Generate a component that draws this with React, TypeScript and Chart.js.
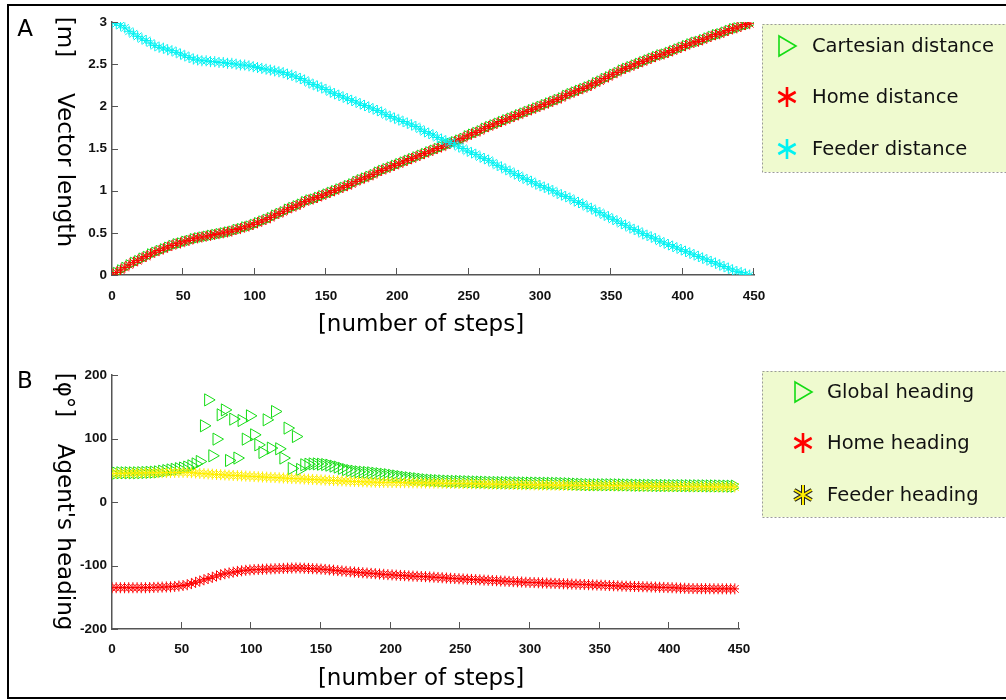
import React, { useEffect, useRef } from "react";
import { Chart, registerables } from "chart.js";
Chart.register(...registerables);

// sampling interval of the recorded series (number of steps between markers)
const STEP = 3;

// ---------- Panel A : vector length [m] ----------
const cartesianDistance = [
  0.00, 0.03, 0.06, 0.09, 0.12, 0.15, 0.17, 0.20, 0.22, 0.25,
  0.27, 0.29, 0.31, 0.33, 0.35, 0.37, 0.38, 0.40, 0.41, 0.43,
  0.44, 0.45, 0.46, 0.47, 0.48, 0.49, 0.50, 0.51, 0.52, 0.54,
  0.55, 0.57, 0.58, 0.60, 0.62, 0.64, 0.66, 0.68, 0.71, 0.73,
  0.75, 0.78, 0.80, 0.82, 0.84, 0.87, 0.89, 0.90, 0.92, 0.94,
  0.96, 0.98, 1.00, 1.02, 1.04, 1.06, 1.08, 1.11, 1.13, 1.15,
  1.17, 1.19, 1.22, 1.24, 1.26, 1.28, 1.30, 1.32, 1.34, 1.36,
  1.38, 1.40, 1.42, 1.44, 1.46, 1.48, 1.50, 1.52, 1.54, 1.56,
  1.58, 1.60, 1.62, 1.65, 1.67, 1.69, 1.71, 1.74, 1.76, 1.78,
  1.80, 1.82, 1.84, 1.86, 1.88, 1.90, 1.92, 1.94, 1.96, 1.98,
  2.00, 2.02, 2.04, 2.06, 2.08, 2.10, 2.13, 2.15, 2.17, 2.19,
  2.21, 2.23, 2.25, 2.28, 2.30, 2.33, 2.35, 2.38, 2.40, 2.43,
  2.45, 2.47, 2.49, 2.51, 2.53, 2.55, 2.57, 2.59, 2.61, 2.62,
  2.64, 2.66, 2.68, 2.70, 2.72, 2.74, 2.76, 2.77, 2.79, 2.81,
  2.83, 2.85, 2.86, 2.88, 2.90, 2.92, 2.93, 2.95, 2.97, 2.98,
];

const homeDistance = [
  0.00, 0.03, 0.06, 0.09, 0.12, 0.15, 0.17, 0.20, 0.22, 0.25,
  0.27, 0.29, 0.31, 0.33, 0.35, 0.37, 0.38, 0.40, 0.41, 0.43,
  0.44, 0.45, 0.46, 0.47, 0.48, 0.49, 0.50, 0.51, 0.52, 0.54,
  0.55, 0.57, 0.58, 0.60, 0.62, 0.64, 0.66, 0.68, 0.71, 0.73,
  0.75, 0.78, 0.80, 0.82, 0.84, 0.87, 0.89, 0.90, 0.92, 0.94,
  0.96, 0.98, 1.00, 1.02, 1.04, 1.06, 1.08, 1.11, 1.13, 1.15,
  1.17, 1.19, 1.22, 1.24, 1.26, 1.28, 1.30, 1.32, 1.34, 1.36,
  1.38, 1.40, 1.42, 1.44, 1.46, 1.48, 1.50, 1.52, 1.54, 1.56,
  1.58, 1.60, 1.62, 1.65, 1.67, 1.69, 1.71, 1.74, 1.76, 1.78,
  1.80, 1.82, 1.84, 1.86, 1.88, 1.90, 1.92, 1.94, 1.96, 1.98,
  2.00, 2.02, 2.04, 2.06, 2.08, 2.10, 2.13, 2.15, 2.17, 2.19,
  2.21, 2.23, 2.25, 2.28, 2.30, 2.33, 2.35, 2.38, 2.40, 2.43,
  2.45, 2.47, 2.49, 2.51, 2.53, 2.55, 2.57, 2.59, 2.61, 2.62,
  2.64, 2.66, 2.68, 2.70, 2.72, 2.74, 2.76, 2.77, 2.79, 2.81,
  2.83, 2.85, 2.86, 2.88, 2.90, 2.92, 2.93, 2.95, 2.97, 2.98,
];

const feederDistance = [
  3.00, 2.98, 2.96, 2.93, 2.89, 2.86, 2.83, 2.80, 2.78, 2.75,
  2.72, 2.70, 2.69, 2.67, 2.66, 2.64, 2.62, 2.60, 2.58, 2.56,
  2.55, 2.54, 2.54, 2.53, 2.53, 2.52, 2.52, 2.51, 2.51, 2.50,
  2.49, 2.49, 2.48, 2.47, 2.46, 2.45, 2.44, 2.43, 2.42, 2.41,
  2.40, 2.38, 2.37, 2.35, 2.33, 2.31, 2.28, 2.26, 2.24, 2.22,
  2.20, 2.17, 2.15, 2.13, 2.11, 2.09, 2.07, 2.05, 2.03, 2.01,
  1.99, 1.97, 1.95, 1.93, 1.90, 1.88, 1.86, 1.84, 1.82, 1.80,
  1.78, 1.76, 1.73, 1.70, 1.68, 1.66, 1.63, 1.61, 1.59, 1.57,
  1.55, 1.52, 1.50, 1.47, 1.45, 1.43, 1.40, 1.38, 1.36, 1.33,
  1.30, 1.28, 1.25, 1.23, 1.20, 1.18, 1.15, 1.13, 1.11, 1.08,
  1.06, 1.04, 1.02, 1.00, 0.97, 0.95, 0.93, 0.91, 0.88, 0.86,
  0.84, 0.81, 0.79, 0.76, 0.74, 0.71, 0.69, 0.66, 0.64, 0.61,
  0.59, 0.56, 0.54, 0.52, 0.49, 0.47, 0.45, 0.43, 0.40, 0.38,
  0.36, 0.34, 0.32, 0.30, 0.28, 0.26, 0.24, 0.22, 0.20, 0.18,
  0.16, 0.14, 0.12, 0.10, 0.08, 0.06, 0.04, 0.03, 0.01, 0.00,
];

// ---------- Panel B : agent's heading [deg] ----------
const globalHeading = [
  45, 45.5, 46, 46, 46, 46, 46, 46.2, 46.5, 46.8,
  47, 47.5, 48.5, 49.5, 50.5, 51.5, 52.5, 53.5, 55, 57,
  60, 63.8, 120, 160.8, 72.8, 99, 137.3, 145, 65.4, 130.5,
  69.2, 128.3, 99, 135.7, 105.8, 90, 78, 129.4, 84.9, 142.5,
  83.8, 69.2, 116.4, 52.8, 103.1, 51.3, 58.6, 59.5, 60, 60,
  59.5, 59, 58, 56.5, 55, 53, 51, 49.5, 48.5, 47.5,
  47, 46.5, 46, 45.2, 44.5, 43.7, 43, 42, 41, 40,
  39, 38.2, 37.4, 36.6, 35.8, 35, 34.5, 34, 33.6, 33.3,
  33, 32.8, 32.6, 32.4, 32.2, 32, 31.8, 31.6, 31.4, 31.2,
  31, 30.8, 30.7, 30.6, 30.5, 30.4, 30.3, 30.2, 30.1, 30,
  29.9, 29.9, 29.8, 29.7, 29.6, 29.5, 29.4, 29.3, 29, 28.8,
  28.5, 28.2, 27.9, 27.6, 27.4, 27.2, 27.2, 27.2, 27.2, 27.2,
  27.2, 27.1, 27, 26.9, 26.8, 26.6, 26.5, 26.4, 26.3, 26.2,
  26.1, 26, 26, 25.9, 25.9, 25.8, 25.8, 25.7, 25.7, 25.6,
  25.6, 25.5, 25.5, 25.4, 25.4, 25.3, 25.2, 25.1, 25, 25,
];

const homeHeading = [
  -135, -135, -135, -135, -135, -135, -135, -135, -135, -134.8,
  -134.5, -134.3, -134, -133.8, -133.6, -133, -132.3, -131.5, -130.3, -128.5,
  -126.5, -124.5, -122.5, -120.5, -118.5, -116.5, -114.5, -113, -111.7, -110.5,
  -109.3, -108.4, -107.6, -107, -106.5, -106.2, -105.9, -105.6, -105.4, -105.1,
  -104.8, -104.5, -104.2, -104, -103.9, -104, -104.3, -104.6, -105, -105.3,
  -105.7, -106.2, -106.8, -107.4, -108, -108.6, -109.2, -109.8, -110.3, -110.9,
  -111.4, -111.9, -112.4, -112.9, -113.4, -113.9, -114.4, -114.8, -115.2, -115.6,
  -116, -116.4, -116.7, -117, -117.3, -117.6, -118, -118.4, -118.8, -119.3,
  -119.7, -120.1, -120.5, -120.9, -121.2, -121.6, -121.9, -122.3, -122.6, -123,
  -123.3, -123.7, -124, -124.4, -124.7, -125, -125.4, -125.7, -126, -126.4,
  -126.7, -126.9, -127.2, -127.5, -127.7, -128, -128.2, -128.5, -128.8, -129,
  -129.3, -129.5, -129.8, -130, -130.3, -130.5, -130.8, -131, -131.3, -131.6,
  -131.9, -132.1, -132.4, -132.6, -132.8, -133, -133.2, -133.4, -133.6, -133.8,
  -134, -134.3, -134.5, -134.8, -135, -135.3, -135.6, -135.8, -136.1, -136.3,
  -136.4, -136.5, -136.5, -136.6, -136.6, -136.7, -136.7, -136.8, -136.8, -136.8,
];

const feederHeading = [
  45, 45, 45.2, 45.3, 45.4, 45.5, 45.6, 45.7, 45.8, 45.9,
  46, 46.1, 46.2, 46.3, 46.4, 46.5, 46.6, 46.6, 46.5, 46.2,
  45.7, 45.1, 44.6, 44.2, 43.8, 43.4, 43, 42.6, 42.2, 41.8,
  41.5, 41.1, 40.8, 40.4, 40.1, 39.7, 39.4, 39.1, 38.8, 38.5,
  38.1, 37.8, 37.5, 37.1, 36.8, 36.5, 36.2, 35.9, 35.5, 35.2,
  34.8, 34.5, 34.2, 33.8, 33.5, 33.2, 32.9, 32.6, 32.4, 32.1,
  31.8, 31.6, 31.4, 31.2, 31, 30.9, 30.8, 30.7, 30.6, 30.5,
  30.4, 30.3, 30.2, 30.1, 30, 30, 29.9, 29.8, 29.7, 29.6,
  29.5, 29.4, 29.2, 29.1, 29, 28.9, 28.8, 28.7, 28.6, 28.5,
  28.3, 28.2, 28.1, 28, 27.9, 27.7, 27.6, 27.5, 27.3, 27.2,
  27.1, 27, 26.9, 26.8, 26.8, 26.7, 26.6, 26.5, 26.4, 26.4,
  26.3, 26.2, 26.1, 26.1, 26, 25.9, 25.9, 25.8, 25.8, 25.7,
  25.7, 25.6, 25.6, 25.5, 25.4, 25.3, 25.2, 25.1, 25, 24.9,
  24.9, 24.8, 24.7, 24.6, 24.5, 24.4, 24.4, 24.3, 24.2, 24.1,
  24.1, 24, 23.9, 23.9, 23.8, 23.8, 23.7, 23.7, 23.6, 23.6,
];

// ---------- axis / label text ----------
const X_MIN = 0, X_MAX = 450, X_STEP = 50;
const A_Y_MIN = 0, A_Y_MAX = 3, A_Y_STEP = 0.5;
const B_Y_MIN = -200, B_Y_MAX = 200, B_Y_STEP = 100;
const X_TITLE = "[number of steps]";
const A_UNIT = "[m]", A_TITLE = "Vector length";
const B_UNIT = "[φ°]", B_TITLE = "Agent's heading";
const A_LABELS = ["Cartesian distance", "Home distance", "Feeder distance"];
const B_LABELS = ["Global heading", "Home heading", "Feeder heading"];

const GREEN = "#14dc14";
const RED = "#ff0000";
const CYAN = "#00f2f2";
const YELLOW = "#ffee00";
const AXIS = "#555555";
const TITLE_FONT = "'DejaVu Sans', Verdana, sans-serif";
const TICK_FONT = { family: "'Liberation Sans', Arial, sans-serif", size: 13.5, weight: "bold" as const };

const toPoints = (arr: number[]) => arr.map((v, i) => ({ x: i * STEP, y: v }));

function drawMarker(ctx: CanvasRenderingContext2D, kind: string, color: string, cx: number, cy: number) {
  ctx.save();
  if (kind === "tri") {
    ctx.strokeStyle = color;
    ctx.lineWidth = 1.6;
    ctx.beginPath();
    ctx.moveTo(cx - 8, cy - 10);
    ctx.lineTo(cx + 9, cy);
    ctx.lineTo(cx - 8, cy + 10);
    ctx.closePath();
    ctx.stroke();
  } else {
    const r = 10;
    const arms = [Math.PI / 2, Math.PI / 6, -Math.PI / 6];
    const path = () => {
      ctx.beginPath();
      arms.forEach((a) => {
        ctx.moveTo(cx - Math.cos(a) * r, cy - Math.sin(a) * r);
        ctx.lineTo(cx + Math.cos(a) * r, cy + Math.sin(a) * r);
      });
    };
    if (kind === "astOutline") {
      ctx.strokeStyle = "#222";
      ctx.lineWidth = 4;
      path();
      ctx.stroke();
      ctx.strokeStyle = color;
      ctx.lineWidth = 2;
      path();
      ctx.stroke();
    } else {
      ctx.strokeStyle = color;
      ctx.lineWidth = 2.6;
      path();
      ctx.stroke();
    }
  }
  ctx.restore();
}

type Deco = {
  letter: string; letterY: number;
  yTitles: { text: string; y: number }[];
  xTitleY: number;
  legend: { x: number; y: number; w: number; h: number; markerX: number; textX: number; rows: number[] };
};

function makeDecor(d: Deco) {
  return {
    id: "decor",
    afterDraw(chart: any) {
      const ctx: CanvasRenderingContext2D = chart.ctx;
      const { left, bottom } = chart.chartArea;
      ctx.save();
      // inward tick marks
      ctx.strokeStyle = AXIS;
      ctx.lineWidth = 1;
      const xs = chart.scales.x;
      xs.ticks.forEach((t: any) => {
        const px = Math.round(xs.getPixelForValue(t.value)) - 0.5;
        ctx.beginPath();
        ctx.moveTo(px, bottom);
        ctx.lineTo(px, bottom - 7);
        ctx.stroke();
      });
      const ys = chart.scales.y;
      ys.ticks.forEach((t: any) => {
        const py = Math.round(ys.getPixelForValue(t.value)) + 0.5;
        ctx.beginPath();
        ctx.moveTo(left, py);
        ctx.lineTo(left + 6, py);
        ctx.stroke();
      });
      // panel letter
      ctx.fillStyle = "#000";
      ctx.font = `23px ${TITLE_FONT}`;
      ctx.textAlign = "center";
      ctx.textBaseline = "middle";
      ctx.fillText(d.letter, 25, d.letterY);
      // rotated y titles (reading top to bottom)
      d.yTitles.forEach((t) => {
        ctx.save();
        ctx.translate(64, t.y);
        ctx.rotate(Math.PI / 2);
        ctx.fillText(t.text, 0, 0);
        ctx.restore();
      });
      // x title
      ctx.fillText(X_TITLE, 421, d.xTitleY);
      // legend box
      const L = d.legend;
      ctx.fillStyle = "#effacf";
      ctx.fillRect(L.x, L.y, L.w, L.h);
      ctx.strokeStyle = "#9a9a9a";
      ctx.lineWidth = 1;
      ctx.setLineDash([2, 2]);
      ctx.strokeRect(L.x + 0.5, L.y + 0.5, L.w, L.h);
      ctx.setLineDash([]);
      ctx.font = `19.5px ${TITLE_FONT}`;
      ctx.textAlign = "left";
      chart.data.datasets.forEach((ds: any, i: number) => {
        drawMarker(ctx, ds.legendMarker, ds.pointBorderColor, L.markerX, L.rows[i]);
        ctx.fillStyle = "#111";
        ctx.fillText(ds.label, L.textX, L.rows[i] + 1);
      });
      ctx.restore();
    },
  };
}

function fitScale(w: number | null, h: number | null) {
  return (s: any) => {
    if (w !== null) s.width = w;
    if (h !== null) s.height = h;
    s.paddingLeft = 0;
    s.paddingRight = 0;
    s.paddingTop = 0;
    s.paddingBottom = 0;
  };
}

function baseOptions(yMin: number, yMax: number, yStep: number, pad: any, xHeight: number, xPad: number) {
  return {
    responsive: false,
    animation: false,
    events: [],
    layout: { padding: pad },
    plugins: { legend: { display: false }, tooltip: { enabled: false } },
    scales: {
      x: {
        type: "linear",
        min: X_MIN,
        max: X_MAX,
        afterFit: fitScale(null, xHeight),
        ticks: { stepSize: X_STEP, padding: xPad, color: "#111", font: TICK_FONT, maxRotation: 0, autoSkip: false, callback: (v: any) => String(v) },
        grid: { display: false, drawTicks: false },
        border: { display: true, color: AXIS, width: 1.5 },
      },
      y: {
        type: "linear",
        min: yMin,
        max: yMax,
        afterFit: fitScale(112, null),
        ticks: { stepSize: yStep, padding: 5, color: "#111", font: TICK_FONT, autoSkip: false, callback: (v: any) => String(v) },
        grid: { display: false, drawTicks: false },
        border: { display: true, color: AXIS, width: 1.5 },
      },
    },
  };
}

function ds(label: string, data: number[], color: string, style: string, radius: number, order: number, legendMarker: string) {
  return {
    label,
    data: toPoints(data),
    showLine: false,
    pointStyle: style,
    pointRotation: style === "triangle" ? 90 : 0,
    pointRadius: radius,
    pointBorderWidth: 1,
    pointBorderColor: color,
    pointBackgroundColor: "rgba(0,0,0,0)",
    order,
    legendMarker,
  };
}

export default function App() {
  const refA = useRef<HTMLCanvasElement>(null);
  const refB = useRef<HTMLCanvasElement>(null);

  useEffect(() => {
    const chartA = new Chart(refA.current as HTMLCanvasElement, {
      type: "scatter",
      data: {
        datasets: [
          ds(A_LABELS[0], cartesianDistance, GREEN, "triangle", 6, 2, "tri"),
          ds(A_LABELS[1], homeDistance, RED, "star", 5.5, 1, "ast"),
          ds(A_LABELS[2], feederDistance, CYAN, "star", 5.5, 0, "ast"),
        ] as any,
      },
      options: baseOptions(A_Y_MIN, A_Y_MAX, A_Y_STEP, { left: 0, top: 22, right: 252, bottom: 0 }, 75, 13) as any,
      plugins: [
        makeDecor({
          letter: "A",
          letterY: 30,
          yTitles: [{ text: A_UNIT, y: 37 }, { text: A_TITLE, y: 170 }],
          xTitleY: 325,
          legend: { x: 762, y: 24, w: 260, h: 148, markerX: 787, textX: 812, rows: [46, 97, 149] },
        }),
      ],
    });

    const chartB = new Chart(refB.current as HTMLCanvasElement, {
      type: "scatter",
      data: {
        datasets: [
          ds(B_LABELS[0], globalHeading, GREEN, "triangle", 7, 2, "tri"),
          ds(B_LABELS[1], homeHeading, RED, "star", 5.5, 1, "ast"),
          ds(B_LABELS[2], feederHeading, YELLOW, "star", 5.5, 0, "astOutline"),
        ] as any,
      },
      options: baseOptions(B_Y_MIN, B_Y_MAX, B_Y_STEP, { left: 0, top: 25, right: 267, bottom: 0 }, 71, 12) as any,
      plugins: [
        makeDecor({
          letter: "B",
          letterY: 32,
          yTitles: [{ text: B_UNIT, y: 45 }, { text: B_TITLE, y: 187 }],
          xTitleY: 329,
          legend: { x: 762, y: 21, w: 260, h: 146, markerX: 803, textX: 827, rows: [42, 93, 145] },
        }),
      ],
    });

    return () => {
      chartA.destroy();
      chartB.destroy();
    };
  }, []);

  return (
    <div style={{ position: "fixed", left: 0, top: 0, width: 1006, height: 700, background: "#fff", overflow: "hidden" }}>
      <div style={{ position: "absolute", left: 7, top: 4, width: 1010, height: 691, border: "2px solid #000" }} />
      <canvas ref={refA} width={1006} height={350} style={{ position: "absolute", left: 0, top: 0, width: 1006, height: 350 }} />
      <canvas ref={refB} width={1006} height={350} style={{ position: "absolute", left: 0, top: 350, width: 1006, height: 350 }} />
    </div>
  );
}
